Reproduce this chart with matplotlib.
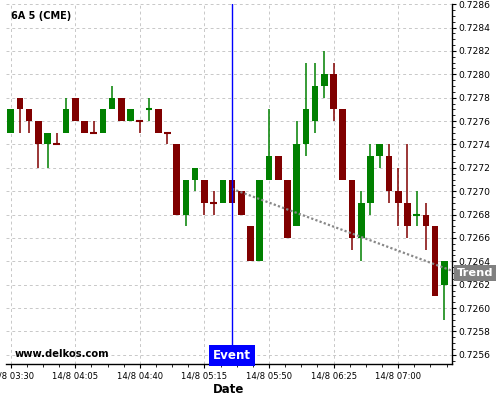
import numpy as np
import matplotlib
matplotlib.use("Agg")
import matplotlib.pyplot as plt
import matplotlib.transforms as mtransforms
from matplotlib.ticker import MultipleLocator, FixedLocator

# ---------------- data ----------------
opens = [0.7275, 0.7278, 0.7277, 0.7276, 0.7274, 0.7274, 0.7275, 0.7278, 0.7276, 0.7275,
         0.7275, 0.7277, 0.7278, 0.7276, 0.7276, 0.7277, 0.7277, 0.7275, 0.7274, 0.7268,
         0.7271, 0.7271, 0.7269, 0.7269, 0.7271, 0.7270, 0.7267, 0.7264, 0.7271, 0.7273,
         0.7271, 0.7267, 0.7274, 0.7276, 0.7279, 0.7280, 0.7277, 0.7271, 0.7266, 0.7269,
         0.7273, 0.7273, 0.7270, 0.7269, 0.7268, 0.7268, 0.7267, 0.7262]
highs = [0.7277, 0.7278, 0.7277, 0.7276, 0.7275, 0.7275, 0.7278, 0.7278, 0.7276, 0.7276,
         0.7277, 0.7279, 0.7278, 0.7277, 0.7276, 0.7278, 0.7277, 0.7275, 0.7274, 0.7271,
         0.7272, 0.7271, 0.7270, 0.7271, 0.7271, 0.7270, 0.7267, 0.7271, 0.7277, 0.7273,
         0.7271, 0.7276, 0.7281, 0.7281, 0.7282, 0.7281, 0.7277, 0.7271, 0.7270, 0.7274,
         0.7274, 0.7274, 0.7272, 0.7274, 0.7270, 0.7269, 0.7267, 0.7264]
lows = [0.7275, 0.7275, 0.7275, 0.7272, 0.7272, 0.7274, 0.7275, 0.7276, 0.7275, 0.7275,
        0.7275, 0.7277, 0.7276, 0.7276, 0.7275, 0.7276, 0.7275, 0.7274, 0.7268, 0.7267,
        0.7270, 0.7268, 0.7268, 0.7269, 0.7269, 0.7268, 0.7264, 0.7264, 0.7271, 0.7271,
        0.7266, 0.7267, 0.7273, 0.7275, 0.7278, 0.7276, 0.7271, 0.7265, 0.7264, 0.7268,
        0.7272, 0.7269, 0.7267, 0.7266, 0.7267, 0.7265, 0.7261, 0.7259]
closes = [0.7277, 0.7277, 0.7276, 0.7274, 0.7275, 0.7274, 0.7277, 0.7276, 0.7275, 0.7275,
          0.7277, 0.7278, 0.7276, 0.7277, 0.7276, 0.7277, 0.7275, 0.7275, 0.7268, 0.7271,
          0.7272, 0.7269, 0.7269, 0.7271, 0.7269, 0.7268, 0.7264, 0.7271, 0.7273, 0.7271,
          0.7266, 0.7274, 0.7277, 0.7279, 0.7280, 0.7277, 0.7271, 0.7266, 0.7269, 0.7273,
          0.7274, 0.7270, 0.7269, 0.7267, 0.7268, 0.7267, 0.7261, 0.7264]
doji_green = [15, 44]          # flat candles drawn in green
tick_labels = ["14/8 03:30", "14/8 04:05", "14/8 04:40", "14/8 05:15",
               "14/8 05:50", "14/8 06:25", "14/8 07:00"]
event_index = 24
trend_x = [24, 47.8]
trend_y = [0.72702, 0.72632]
trend_label_value = 0.7263
title = "6A 5 (CME)"

GREEN = "#008000"
RED = "#800000"

fig = plt.figure(figsize=(5, 4), dpi=100)
ax = fig.add_axes([0.012, 0.09, 0.8914, 0.90])

n = len(opens)
x = np.arange(n)
o = np.array(opens); c = np.array(closes); h = np.array(highs); l = np.array(lows)
up = (c > o) | np.isin(x, doji_green)
cols = np.where(up, GREEN, RED)

# grid
ax.set_axisbelow(True)
ax.grid(True, which="major", color="#c8c8c8", linestyle=(0, (3, 3)), linewidth=0.7)

# wicks
ax.vlines(x, l, h, colors=cols, linewidth=1.1, zorder=2)
# bodies
body_w = 0.72
heights = np.abs(c - o)
bottoms = np.minimum(o, c)
nz = heights > 1e-9
ax.bar(x[nz], heights[nz], bottom=bottoms[nz], width=body_w, color=cols[nz],
       linewidth=0, zorder=3)
# flat candles
ax.hlines(c[~nz], x[~nz] - body_w / 2, x[~nz] + body_w / 2, colors=cols[~nz],
          linewidth=1.5, zorder=3)

# trend line
ax.plot(trend_x, trend_y, color="#888888", linewidth=1.6, linestyle=(0, (1, 1)),
        zorder=4, solid_capstyle="butt", dash_capstyle="butt")

ax.set_xlim(-0.5, 47.8)
ax.set_ylim(0.725521, 0.728602)

# event line
ax.axvline(event_index, color="#0000ff", linewidth=1.0, zorder=5)

# axes styling
for s in ["left", "top"]:
    ax.spines[s].set_visible(False)
ax.spines["right"].set_linewidth(1.0)
ax.spines["bottom"].set_linewidth(1.0)
ax.yaxis.tick_right()
ax.yaxis.set_major_locator(MultipleLocator(0.0002))
ax.yaxis.set_minor_locator(MultipleLocator(0.00005))
ax.yaxis.set_major_formatter(matplotlib.ticker.FormatStrFormatter("%.4f"))
ax.xaxis.set_major_locator(FixedLocator(np.arange(0, n, 7)))
ax.set_xticklabels(tick_labels)
ax.xaxis.set_minor_locator(FixedLocator(np.arange(0, 47.8, 1.75)))
ax.tick_params(axis="y", which="major", length=3, width=0.8, pad=1.5, labelsize=6.6,
               direction="out")
ax.tick_params(axis="y", which="minor", length=2, width=0.6, direction="out")
ax.tick_params(axis="x", which="major", length=3, width=0.8, pad=2.5, labelsize=6.1,
               direction="out")
ax.tick_params(axis="x", which="minor", length=2, width=0.6, direction="out")

ax.set_xlabel("Date", fontsize=8.5, fontweight="bold", labelpad=2)

# texts
ax.text(0.0112, 0.9675, title, transform=ax.transAxes, ha="left", va="center",
        fontsize=7, fontweight="bold")
ax.text(0.0202, 0.0278, "www.delkos.com", transform=ax.transAxes, ha="left",
        va="center", fontsize=7.2, fontweight="bold", zorder=6)

blend = mtransforms.blended_transform_factory(ax.transData, ax.transAxes)
ax.text(event_index, 0.0236, "Event", transform=blend, ha="center", va="center",
        fontsize=8.6, fontweight="bold", color="white", zorder=7,
        bbox=dict(boxstyle="square,pad=0.3", facecolor="#0000ff", edgecolor="none"))

blend2 = mtransforms.blended_transform_factory(ax.transAxes, ax.transData)
ax.annotate("Trend", xy=(1.0, trend_label_value), xycoords=blend2,
            xytext=(3.5, 0), textcoords="offset points", ha="left", va="center",
            fontsize=8.2, fontweight="bold", color="white", zorder=7,
            annotation_clip=False,
            bbox=dict(boxstyle="square,pad=0.25", facecolor="#808080", edgecolor="none"))

fig.savefig("out.png", dpi=100)
